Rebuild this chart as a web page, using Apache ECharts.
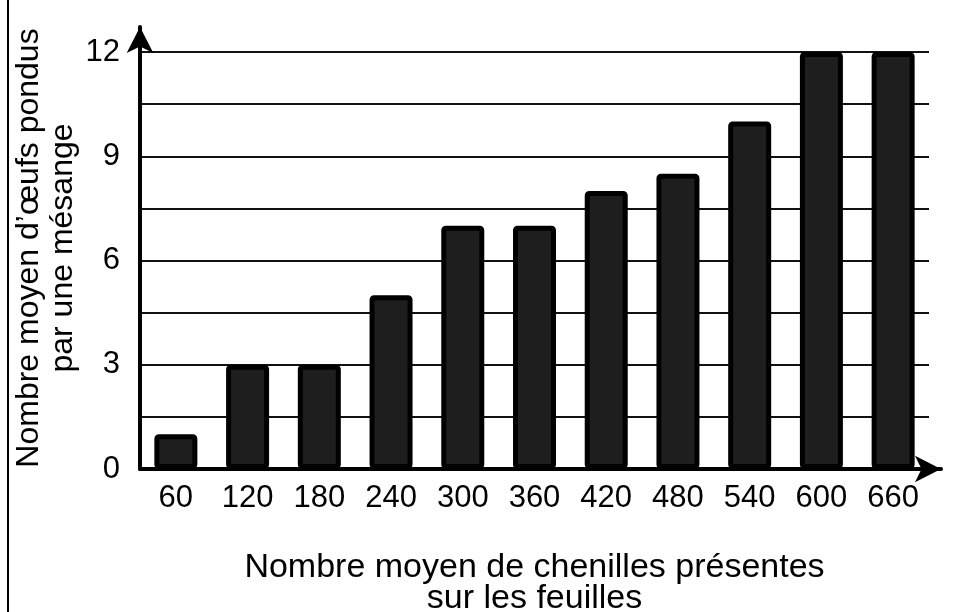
<!DOCTYPE html>
<html>
<head>
<meta charset="utf-8">
<script src="https://cdn.jsdelivr.net/npm/echarts@6/dist/echarts.min.js"></script>
<style>
  html, body { margin: 0; padding: 0; background: #fff; }
  #chart { position: absolute; left: 0; top: 0; width: 956px; height: 612px; }
  #edge { position: absolute; left: 7px; top: 0; width: 2px; height: 612px; background: #000; }
</style>
</head>
<body>
<div id="chart"></div>
<div id="edge"></div>
<script>
  // chenilles (x) et œufs pondus (y)
  const categories = ['60', '120', '180', '240', '300', '360', '420', '480', '540', '600', '660'];
  const eggs = [1, 3, 3, 5, 7, 7, 8, 8.5, 10, 12, 12];
  const yMax = 12;
  const yStep = 1.5;

  const font = "'Liberation Sans', Arial, sans-serif";
  const chart = echarts.init(document.getElementById('chart'));

  chart.setOption({
    animation: false,
    textStyle: { fontFamily: font, color: '#000' },
    grid: [
      { left: 140, right: 27, top: 52, bottom: 143, outerBoundsMode: 'none', containLabel: false },
      { left: 140, right: 15, top: 27, bottom: 143, outerBoundsMode: 'none', containLabel: false }
    ],
    xAxis: [
      {
        type: 'category',
        gridIndex: 0,
        data: categories,
        axisLine: { show: false },
        axisTick: { show: false },
        axisLabel: { color: '#000', fontSize: 31, fontFamily: font, margin: 14 },
        name: 'Nombre moyen de chenilles présentes\nsur les feuilles',
        nameLocation: 'middle',
        nameGap: 83,
        nameTextStyle: { color: '#000', fontSize: 34, fontFamily: font, lineHeight: 31 }
      },
      {
        type: 'value',
        gridIndex: 1,
        min: 0, max: 1,
        axisLine: {
          show: true,
          symbol: ['none', 'arrow'],
          symbolSize: [20, 26],
          lineStyle: { color: '#000', width: 4 }
        },
        axisTick: { show: false },
        axisLabel: { show: false },
        splitLine: { show: false }
      }
    ],
    yAxis: [
      {
        type: 'value',
        gridIndex: 0,
        min: 0,
        max: yMax,
        interval: yStep,
        axisLine: { show: false },
        axisTick: { show: false },
        axisLabel: {
          color: '#000', fontSize: 31, fontFamily: font, margin: 20,
          formatter: v => (v % 3 === 0 ? String(v) : '')
        },
        splitLine: { show: true, lineStyle: { color: '#111', width: 2 } }
      },
      {
        type: 'value',
        gridIndex: 1,
        min: 0, max: 1,
        axisLine: {
          show: true,
          symbol: ['none', 'arrow'],
          symbolSize: [20, 26],
          lineStyle: { color: '#000', width: 4 }
        },
        axisTick: { show: false },
        axisLabel: { show: false },
        splitLine: { show: false },
        name: 'Nombre moyen d\u2019œufs pondus\npar une mésange',
        nameLocation: 'middle',
        nameRotate: 90,
        nameGap: 60,
        nameTextStyle: { color: '#000', fontSize: 32, fontFamily: font, lineHeight: 34 }
      }
    ],
    series: [
      {
        type: 'bar',
        xAxisIndex: 0,
        yAxisIndex: 0,
        data: eggs,
        barWidth: 43,
        z: 3,
        itemStyle: {
          color: '#1e1e1e',
          borderColor: '#000',
          borderWidth: 5,
          borderRadius: 2
        }
      }
    ]
  });
</script>
</body>
</html>
